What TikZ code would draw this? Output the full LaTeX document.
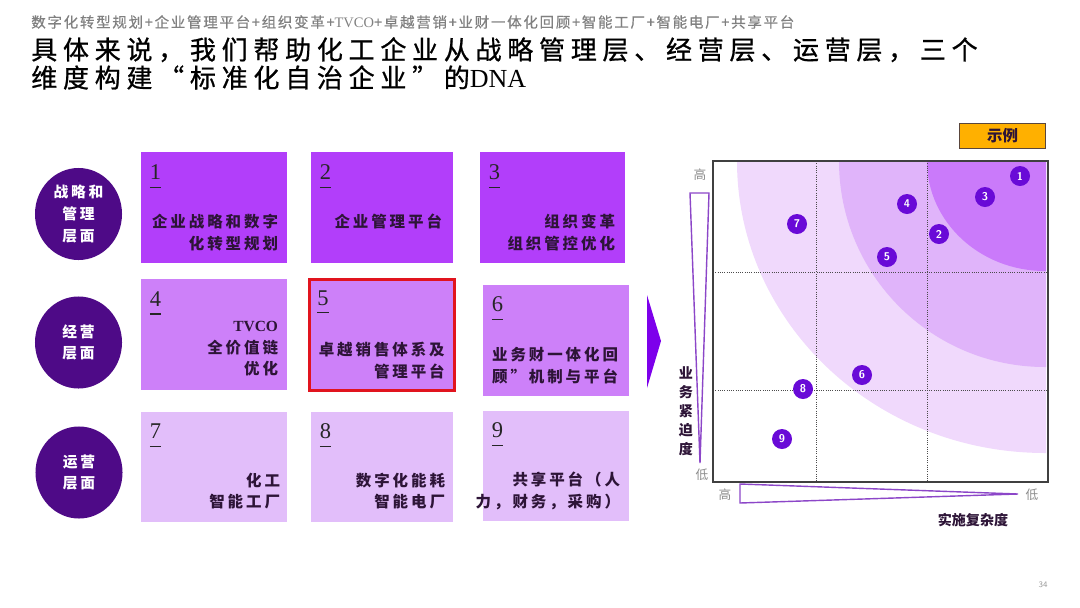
\documentclass[tikz,border=0pt]{standalone}
\usepackage{fontspec}
\setmainfont{Liberation Serif}
\newfontfamily\cjk{Noto Sans CJK SC}
\newfontfamily\cjktitle[LetterSpace=22, FakeBold=0.8]{Noto Sans CJK SC}
\newfontfamily\cjkwide[LetterSpace=19]{Noto Sans CJK SC}
\newfontfamily\cjksub[LetterSpace=12, FakeBold=0.6]{Noto Sans CJK SC}
\usetikzlibrary{shapes,positioning}
\definecolor{deepviolet}{RGB}{78,10,135}
\definecolor{cellA}{RGB}{178,62,250}
\definecolor{cellB}{RGB}{205,128,249}
\definecolor{cellC}{RGB}{226,190,250}
\definecolor{inkdark}{RGB}{45,20,55}
\definecolor{hired}{RGB}{225,20,30}
\definecolor{zoneA}{RGB}{202,122,250}
\definecolor{zoneB}{RGB}{224,180,250}
\definecolor{zoneC}{RGB}{240,217,252}
\definecolor{spotviolet}{RGB}{105,10,215}
\definecolor{axisviolet}{RGB}{140,70,200}
\definecolor{arrowviolet}{RGB}{125,0,235}
\definecolor{amber}{RGB}{255,176,0}
\definecolor{boxedge}{RGB}{90,70,60}
\newcommand{\cellnum}[1]{\begingroup\setbox0\hbox{#1}\usebox0\llap{\rule[-6pt]{\wd0}{0.9pt}}\endgroup}

\begin{document}
\begin{tikzpicture}[x=0.025cm, y=-0.025cm,
    tier/.style={
      ellipse,
      fill=deepviolet,
      minimum width=2.175cm,
      minimum height=2.3cm,
      inner sep=0pt,
      text=white,
      align=center,
      font=\cjkwide\bfseries\fontsize{10.5}{15.5}\selectfont
    },
    cell/.style={rectangle, fill=#1, minimum width=3.65cm, minimum height=2.75cm, inner sep=0pt},
    num/.style={inner sep=0pt, text=black!85, font=\fontsize{16}{16}\selectfont},
    txt/.style={anchor=east, inner sep=0pt, align=right, text=inkdark,
      font=\cjkwide\bfseries\fontsize{11}{15.3}\selectfont},
    spot/.style={circle, fill=spotviolet, minimum size=0.5cm, inner sep=0pt, text=white,
      font=\sffamily\bfseries\fontsize{8}{8}\selectfont},
    axisbar/.style={draw=axisviolet, line width=1pt, fill=white},
    gridline/.style={densely dotted, draw=black!70, line width=0.6pt},
    lbl/.style={inner sep=0pt, text=black!45, font=\cjk\fontsize{9}{9}\selectfont},
    axistitle/.style={inner sep=0pt, align=center, text=inkdark,
      font=\cjk\bfseries\fontsize{10}{13.5}\selectfont}
  ]
    \useasboundingbox (0,0) rectangle (1080,607);

    % headings
    \node[anchor=west, inner sep=0pt, text=black!50, font=\cjksub\fontsize{10.3}{10.3}\selectfont] (subtitle) at (31,22)
      {数字化转型规划+企业管理平台+组织变革+{\rmfamily TVCO}+卓越营销+业财一体化回顾+智能工厂+智能电厂+共享平台};
    \node[anchor=north west, inner sep=0pt, align=left, font=\cjktitle\fontsize{18.5}{20}\selectfont] (title) at (31,37)
      {具体来说，我们帮助化工企业从战略管理层、经营层、运营层，三个\\维度构建“标准化自治企业”的{\rmfamily DNA}};

    % levels
    \node[tier] (c1) at (78.5,214) {战略和\\管理\\层面};
    \node[tier] (c2) at (78.5,342.5) {经营\\层面};
    \node[tier] (c3) at (79,472.5) {运营\\层面};

    % cells
    \node[cell=cellA] (b1) at (214,207.5) {};
    \node[cell=cellA, minimum width=3.55cm] (b2) at (382,207.5) {};
    \node[cell=cellA, minimum width=3.625cm] (b3) at (552.5,207.5) {};
    \node[cell=cellB] (b4) at (214,334.5) {};
    \node[cell=cellB, draw=hired, line width=2.1pt, minimum width=3.625cm, minimum height=2.775cm] (b5) at (382,335) {};
    \node[cell=cellB, minimum height=2.775cm] (b6) at (556,340.5) {};
    \node[cell=cellC] (b7) at (214,467) {};
    \node[cell=cellC, minimum width=3.55cm] (b8) at (382,467) {};
    \node[cell=cellC] (b9) at (556,466) {};

    \node[num, below right=0.3cm and 0.225cm of b1.north west] (n1) {\cellnum{1}};
    \node[num, below right=0.3cm and 0.225cm of b2.north west] (n2) {\cellnum{2}};
    \node[num, below right=0.3cm and 0.225cm of b3.north west] (n3) {\cellnum{3}};
    \node[num, below right=0.3cm and 0.225cm of b4.north west] (n4) {\cellnum{4}};
    \node[num, below right=0.3cm and 0.225cm of b5.north west] (n5) {\cellnum{5}};
    \node[num, below right=0.3cm and 0.225cm of b6.north west] (n6) {\cellnum{6}};
    \node[num, below right=0.3cm and 0.225cm of b7.north west] (n7) {\cellnum{7}};
    \node[num, below right=0.3cm and 0.225cm of b8.north west] (n8) {\cellnum{8}};
    \node[num, below right=0.3cm and 0.225cm of b9.north west] (n9) {\cellnum{9}};

    \node[txt] (t1) at ([xshift=-0.225cm, yshift=-0.625cm]b1.east) {企业战略和数字\\化转型规划};
    \node[txt] (t2) at ([xshift=-0.275cm, yshift=-0.36cm]b2.east) {企业管理平台};
    \node[txt] (t3) at ([xshift=-0.25cm, yshift=-0.625cm]b3.east) {组织变革\\组织管控优化};
    \node[txt] (t4) at ([xshift=-0.225cm, yshift=-0.36cm]b4.east) {{\rmfamily TVCO}\\全价值链\\优化};
    \node[txt] (t5) at ([xshift=-0.275cm, yshift=-0.64cm]b5.east) {卓越销售体系及\\管理平台};
    \node[txt] (t6) at ([xshift=-0.275cm, yshift=-0.625cm]b6.east) {业务财一体化回\\顾”机制与平台};
    \node[txt] (t7) at ([xshift=-0.175cm, yshift=-0.6cm]b7.east) {化工\\智能工厂};
    \node[txt] (t8) at ([xshift=-0.2cm, yshift=-0.6cm]b8.east) {数字化能耗\\智能电厂};
    \node[txt] (t9) at ([xshift=-0.225cm, yshift=-0.625cm]b9.east) {共享平台（人\\力，财务，采购）\hspace{4pt}};

    % arrow into the matrix
    \fill[arrowviolet] (647,295) -- (661,341) -- (647,388) -- cycle;

    % matrix
    \begin{scope}
      \clip (713,161) rectangle (1046,482);
      \fill[zoneC] (1045,161) ellipse [x radius=308, y radius=292];
      \fill[zoneB] (1045,161) ellipse [x radius=206, y radius=206];
      \fill[zoneA] (1045,161) ellipse [x radius=118, y radius=110];
    \end{scope}
    \draw[gridline] (816,161) -- (816,482);
    \draw[gridline] (927,161) -- (927,482);
    \draw[gridline] (713,272) -- (1048,272);
    \draw[gridline] (713,390) -- (1048,390);
    \draw[line width=2pt, draw=black!75] (713,161) rectangle (1048,482);

    \node[spot] (p1) at (1020,176) {1};
    \node[spot] (p2) at (939,234) {2};
    \node[spot] (p3) at (985,197) {3};
    \node[spot] (p4) at (907,204) {4};
    \node[spot] (p5) at (887,257) {5};
    \node[spot] (p6) at (862,375) {6};
    \node[spot] (p7) at (797,224) {7};
    \node[spot] (p8) at (803,389) {8};
    \node[spot] (p9) at (782,439) {9};

    % axes
    \draw[axisbar] (690,193) -- (709,193) -- (700,463) -- cycle;
    \draw[axisbar] (740,484) -- (1018,494) -- (740,503) -- cycle;
    \node[lbl] (yhi) at (700,175) {高};
    \node[lbl] (ylo) at (702,475) {低};
    \node[lbl] (xhi) at (725,495) {高};
    \node[lbl] (xlo) at (1032,495) {低};
    \node[axistitle] (ytitle) at (686,411) {业\\务\\紧\\迫\\度};
    \node[axistitle] (xtitle) at (973,520) {实施复杂度};

    \node[draw=boxedge, fill=amber, line width=1.2pt, minimum width=2.15cm, minimum height=0.62cm, inner sep=0pt,
      text=inkdark, font=\cjk\bfseries\fontsize{11}{11}\selectfont] (legend) at (1002.5,136) {示例};

    \node[inner sep=0pt, text=black!40, font=\sffamily\fontsize{6}{6}\selectfont] (page) at (1043,585) {34};
  \end{tikzpicture}
\end{document}
